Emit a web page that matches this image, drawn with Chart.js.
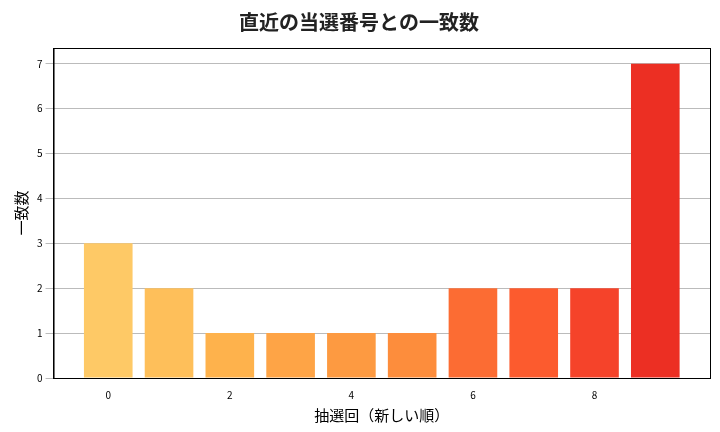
<!DOCTYPE html>
<html><head><meta charset="utf-8">
<script src="https://cdn.jsdelivr.net/npm/chart.js@4/dist/chart.umd.min.js"></script>
<style>body{margin:0;background:#fff}</style>
</head><body><canvas id="c" width="720" height="432"></canvas>
<script>
const draws = [0,1,2,3,4,5,6,7,8,9];
const matches = [3,2,1,1,1,1,2,2,2,7];
const colors = ['#fec966','#febf5a','#feb24c','#fea446','#fd9a41','#fd8d3c','#fc6c33','#fc5b2e','#f5432a','#ec2f23'];
const F = "'Noto Sans CJK JP', 'DejaVu Sans', sans-serif";
const frame = {id:'frame', afterDraw(c){const a=c.chartArea,x=c.ctx;x.save();x.strokeStyle='#000';x.lineWidth=1;x.strokeRect(a.left+0.5,a.top+0.5,a.right-a.left,a.bottom-a.top);x.restore();}};
new Chart(document.getElementById('c'), {
  type: 'bar',
  plugins:[frame],
  data: { datasets: [{ data: draws.map((x,i)=>({x:x,y:matches[i]})), backgroundColor: colors, barPercentage: 0.8, categoryPercentage: 1 }] },
  options: {
    responsive:false, animation:false, devicePixelRatio:1,
    layout:{padding:{left:8,right:10,top:6,bottom:4}},
    plugins:{legend:{display:false}, tooltip:{enabled:false},
      title:{display:true,text:'直近の当選番号との一致数',color:'#222',font:{family:F,size:20,weight:'bold'},padding:{top:4,bottom:14}}},
    scales:{
      x:{type:'linear',min:-0.9,max:9.9,offset:false,grid:{display:false},border:{color:'#000'},
        ticks:{autoSkip:false,color:'#000',font:{family:F,size:10},callback:v=>v},
        afterBuildTicks:a=>{a.ticks=[0,2,4,6,8].map(v=>({value:v}));},
        title:{display:true,text:'抽選回（新しい順）',color:'#000',font:{family:F,size:15},padding:{top:2}}},
      y:{min:0,max:7.35,grid:{color:'#bbb'},border:{color:'#000'},
        afterBuildTicks:a=>{a.ticks=[0,1,2,3,4,5,6,7].map(v=>({value:v}));},
        ticks:{autoSkip:false,color:'#000',font:{family:F,size:10}},
        title:{display:true,text:'一致数',color:'#000',font:{family:F,size:15},padding:{bottom:4}}}
    }
  }
});
</script></body></html>
